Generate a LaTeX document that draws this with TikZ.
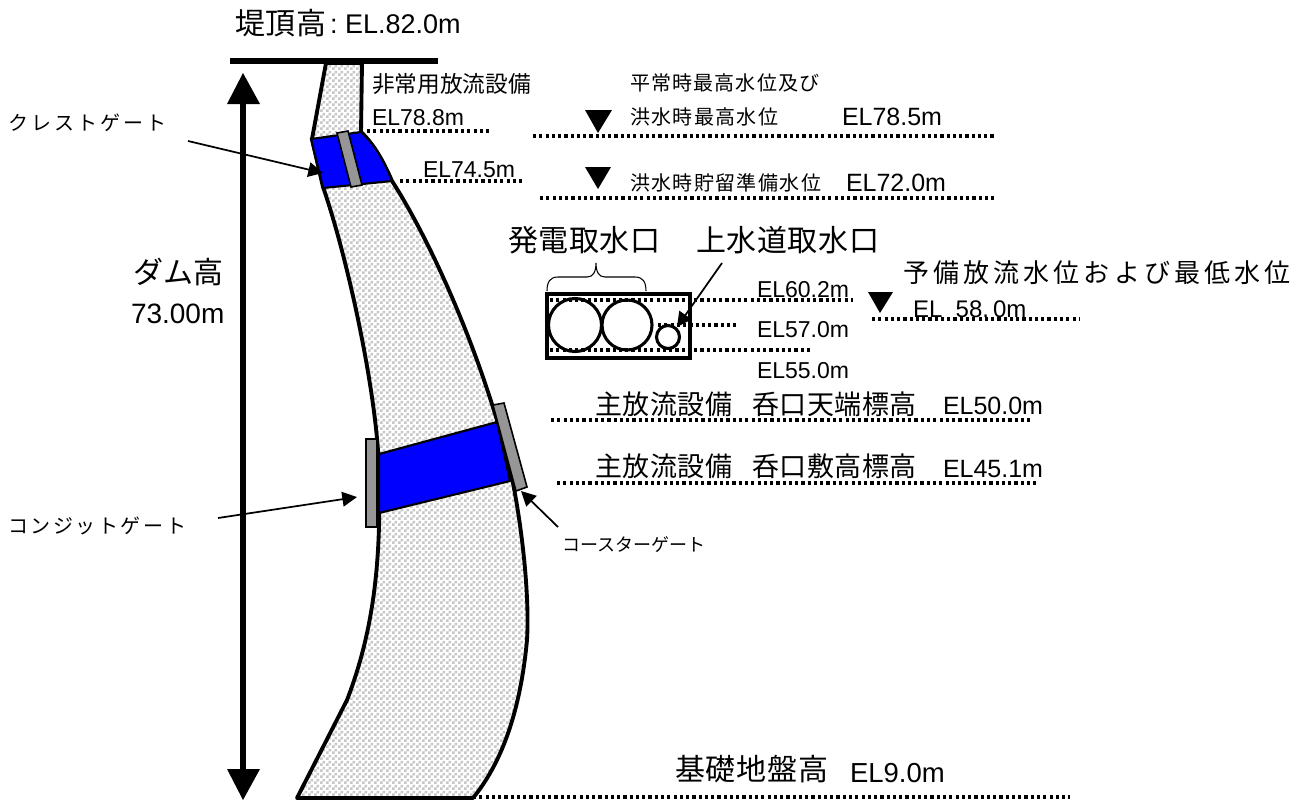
\documentclass[tikz,border=0pt]{standalone}
\usepackage{fontspec}
\setmainfont{Liberation Sans}
\newfontfamily\cjk{Noto Sans CJK JP}
\usetikzlibrary{patterns,arrows.meta}
\definecolor{damblue}{RGB}{0,0,255}
\definecolor{gategray}{RGB}{150,150,150}
\pgfdeclarepatternformonly{damcheck}{\pgfqpoint{0pt}{0pt}}{\pgfqpoint{4.2pt}{4.2pt}}{\pgfqpoint{4.2pt}{4.2pt}}{%
  \pgfpathrectangle{\pgfqpoint{0pt}{0pt}}{\pgfqpoint{2.1pt}{2.1pt}}%
  \pgfpathrectangle{\pgfqpoint{2.1pt}{2.1pt}}{\pgfqpoint{2.1pt}{2.1pt}}%
  \pgfusepath{fill}}
\tikzset{
  x=0.75pt,y=-0.75pt,
  outline/.style={line width=2.9pt,line join=round},
  dotline/.style={line width=2.5pt,dash pattern=on 2.4pt off 2.3pt},
  gatebox/.style={draw=black,line width=1.2pt,fill=gategray},
  wayblue/.style={draw=black,line width=1.6pt,fill=damblue},
  level/.style={fill=black,draw=none},
  thinarrow/.style={line width=1.3pt,-{Triangle[length=11pt,width=11pt]}},
  lab/.style={anchor=base west,inner sep=0pt,outer sep=0pt},
}
\newcommand{\jps}[3]{{\fontsize{\dimexpr#1pt*3/4\relax}{#1pt}\selectfont\cjk\addfontfeature{LetterSpace=#2}#3}}
\newcommand{\lt}[2]{{\fontsize{\dimexpr#1pt*3/4\relax}{#1pt}\selectfont #2}}
\begin{document}
\begin{tikzpicture}
\useasboundingbox (0,0) rectangle (1308,801);
% dam body
\def\dampath{(326,63) -- (312,139) -- (323,187) .. controls (345,250) and (372,370) .. (378,450) .. controls (382,540) and (378,620) .. (347,700) -- (297,798) -- (473,798) .. controls (500,765) and (520,715) .. (527,640) .. controls (530,590) and (520,510) .. (508,460) .. controls (480,350) and (430,240) .. (392,181) .. controls (385,165) and (375,145) .. (361,132) -- (362,63) -- cycle}
\fill[white] \dampath;
\fill[pattern=damcheck,pattern color=black!22] \dampath;
\draw[outline] \dampath;
% crest
\coordinate (ca) at (311,139);
\coordinate (cb) at (361,132);
\coordinate (cc) at (392,181);
\coordinate (cd) at (323,188);
\draw[wayblue] (ca) -- (cb) .. controls (372,142) and (382,155) .. (cc) -- (cd) -- cycle;
\draw[gatebox] (337,133) -- (348,131) -- (362,185) -- (351,187) -- cycle;
% conduit
\draw[wayblue] (379,454) -- (497,422) -- (510,481) -- (379,513) -- cycle;
\draw[gatebox] (366,439) rectangle (377,527);
\draw[gatebox] (493,405) -- (504,403) -- (527,487) -- (516,491) -- cycle;
% top bar and height arrow
\draw[line width=5.2pt] (230,61) coordinate (bara) -- (438,61) coordinate (barb);
\coordinate (hta) at (243,73);
\coordinate (htb) at (243,800);
\draw[line width=4.8pt] (243,95) -- (243,775);
\fill (hta) -- (260,104) -- (227,104) -- cycle;
\fill (htb) -- (227,769) -- (260,769) -- cycle;
% dotted levels
\foreach \xa/\xb/\yy in {367/490/131,400/522/181,533/995/136,540/995/198,550/853/300,658/738/325,550/812/350,872/1080/319,551/1033/420,557/1039/483,473/1070/797}
  \draw[dotline] (\xa,\yy) -- (\xb,\yy);
% triangles
\fill[level] (585,110) -- (612,110) -- (598,133) -- cycle;
\fill[level] (585,167) -- (611,167) -- (598,189) -- cycle;
\fill[level] (868,292) -- (893,292) -- (880,313) -- cycle;
% intake box
\draw[line width=3pt] (547,294) rectangle (690,358);
\draw[line width=2.3pt] (575,325) circle (26.5);
\draw[line width=2.3pt] (627,325) circle (25);
\draw[line width=2.3pt] (668,337) circle (11.5);
% brace
\draw[line width=0.8pt] (547,291) .. controls (547,282) and (550,277) .. (558,277) -- (587,277) .. controls (593,277) and (596,272) .. (596,263) .. controls (596,272) and (599,277) .. (605,277) -- (635,277) .. controls (643,277) and (646,282) .. (646,291);
% pointers
\coordinate (p1) at (722,263);
\coordinate (p1e) at (677,327);
\draw[thinarrow] (p1) -- (p1e);
\coordinate (p2) at (188,141);
\coordinate (p2e) at (323,173);
\draw[thinarrow] (p2) -- (p2e);
\coordinate (p3) at (218,518);
\coordinate (p3e) at (357,497);
\draw[thinarrow] (p3) -- (p3e);
\coordinate (p4) at (558,527);
\coordinate (p4e) at (521,491);
\draw[thinarrow] (p4) -- (p4e);
% labels
\node[lab] (t1) at (235,34) {\jps{30}{3}{堤頂高}};
\node[lab] (t1a) at (330,33) {\lt{27}{:}};
\node[lab] (t1b) at (345,33) {\lt{27}{EL.82.0m}};
\node[lab] (t2) at (372,92) {\jps{22.7}{0}{非常用放流設備}};
\node[lab] (t3) at (372,125) {\lt{23}{EL78.8m}};
\node[lab] (t4) at (423,177) {\lt{23}{EL74.5m}};
\node[lab] (t5) at (630,90) {\jps{20}{6}{平常時最高水位及び}};
\node[lab] (t6) at (630,124) {\jps{20}{7}{洪水時最高水位}};
\node[lab] (t7) at (842,125) {\lt{25}{EL78.5m}};
\node[lab] (t8) at (630,190) {\jps{20}{7}{洪水時貯留準備水位}};
\node[lab] (t9) at (846,191) {\lt{25}{EL72.0m}};
\node[lab] (t10) at (508,251) {\jps{30}{2}{発電取水口}};
\node[lab] (t11) at (696,251) {\jps{30}{2}{上水道取水口}};
\node[lab] (t12) at (903,282) {\jps{26}{16}{予備放流水位および最低水位}};
\node[lab] (t13) at (913,317) {\lt{24}{EL\hspace{10pt}58.\hspace{3pt}0m}};
\node[lab] (t14) at (757,297) {\lt{23}{EL60.2m}};
\node[lab] (t15) at (757,337) {\lt{23}{EL57.0m}};
\node[lab] (t16) at (757,378) {\lt{23}{EL55.0m}};
\node[lab] (t17) at (595,414) {\jps{27}{2}{主放流設備\hspace{15pt}呑口天端標高}};
\node[lab] (t18) at (595,476) {\jps{27}{2}{主放流設備\hspace{15pt}呑口敷高標高}};
\node[lab] (t17b) at (943,414) {\lt{25}{EL50.0m}};
\node[lab] (t18b) at (943,477) {\lt{25}{EL45.1m}};
\node[lab] (t19) at (562,551) {\jps{18}{0}{コースターゲート}};
\node[lab] (t20) at (8,130) {\jps{20}{15}{クレストゲート}};
\node[lab] (t21) at (8,533) {\jps{20}{13}{コンジットゲート}};
\node[lab] (t22) at (133,283) {\jps{30}{0}{ダム高}};
\node[lab] (t23) at (131,323) {\lt{28}{73.00m}};
\node[lab] (t24) at (675,780) {\jps{30}{3}{基礎地盤高}};
\node[lab] (t25) at (850,782) {\lt{27.5}{EL9.0m}};
\end{tikzpicture}
\end{document}
